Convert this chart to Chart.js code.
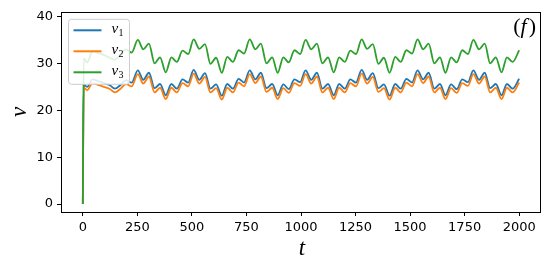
<!DOCTYPE html>
<html>
<head>
<meta charset="utf-8">
<script src="https://cdn.jsdelivr.net/npm/chart.js@4"></script>
<style>
  html, body { margin: 0; background: #fff; }
</style>
</head>
<body>
<canvas id="chart" width="550" height="270"></canvas>
<script>
// time samples (t), one point per local peak / dip
const times = [0, 4, 20, 45, 70, 96, 122, 147, 173, 198, 224,
  252, 277, 303, 329, 354, 380, 406, 431, 457, 483,
  508, 534, 560, 585, 611, 637, 662, 688, 714, 739,
  765, 791, 816, 842, 868, 893, 919, 944, 970, 996,
  1021, 1047, 1073, 1098, 1124, 1150, 1175, 1201, 1226, 1252,
  1278, 1303, 1329, 1355, 1380, 1406, 1432, 1457, 1483, 1509,
  1534, 1560, 1585, 1611, 1637, 1662, 1688, 1714, 1739, 1765,
  1790, 1816, 1842, 1867, 1893, 1919, 1944, 1970, 2000];

const v1 = [0, 25.4, 25.0, 26.6, 26.2, 25.8, 25.4, 24.6, 25.4, 26.4, 25.9,
  28.5, 26.5, 28.0, 24.7, 25.6, 23.2, 25.6, 24.6, 26.6, 25.9,
  28.6, 26.5, 27.9, 24.6, 25.5, 23.1, 25.6, 24.6, 26.7, 25.9,
  28.5, 26.6, 28.0, 24.7, 25.6, 23.2, 25.5, 24.5, 26.6, 26.0,
  28.5, 26.5, 28.0, 24.6, 25.6, 23.2, 25.6, 24.6, 26.6, 25.9,
  28.6, 26.5, 27.9, 24.7, 25.5, 23.1, 25.6, 24.6, 26.7, 25.9,
  28.5, 26.6, 28.0, 24.6, 25.6, 23.2, 25.5, 24.5, 26.6, 26.0,
  28.5, 26.5, 28.0, 24.7, 25.6, 23.2, 25.6, 24.6, 26.7];

const v2 = [0, 24.8, 24.3, 25.8, 25.4, 25.0, 24.6, 23.8, 24.6, 25.6, 25.1,
  27.7, 25.7, 27.2, 23.8, 24.8, 22.4, 24.8, 23.8, 25.8, 25.1,
  27.8, 25.7, 27.1, 23.8, 24.7, 22.3, 24.8, 23.8, 25.9, 25.1,
  27.7, 25.8, 27.2, 23.9, 24.8, 22.4, 24.7, 23.7, 25.8, 25.2,
  27.7, 25.7, 27.2, 23.8, 24.8, 22.4, 24.8, 23.8, 25.8, 25.1,
  27.8, 25.7, 27.1, 23.9, 24.7, 22.3, 24.8, 23.8, 25.9, 25.1,
  27.7, 25.8, 27.2, 23.8, 24.8, 22.4, 24.7, 23.7, 25.8, 25.2,
  27.7, 25.7, 27.2, 23.8, 24.8, 22.4, 24.8, 23.8, 25.9];

const v3 = [0, 31.0, 30.2, 32.6, 32.2, 31.8, 31.2, 30.8, 31.9, 33.0, 32.3,
  35.0, 33.0, 34.2, 30.0, 31.3, 28.1, 31.3, 30.3, 32.7, 32.0,
  35.1, 33.1, 34.1, 29.9, 31.2, 28.0, 31.4, 30.3, 32.8, 32.1,
  35.1, 33.0, 34.2, 30.0, 31.3, 28.0, 31.3, 30.2, 32.8, 32.0,
  35.0, 33.0, 34.2, 30.0, 31.3, 28.1, 31.3, 30.3, 32.7, 32.0,
  35.1, 33.1, 34.1, 29.9, 31.2, 28.0, 31.4, 30.3, 32.8, 32.1,
  35.1, 33.0, 34.2, 30.0, 31.3, 28.0, 31.3, 30.2, 32.8, 32.0,
  35.0, 33.0, 34.2, 30.0, 31.3, 28.1, 31.3, 30.3, 32.8];

const seriesNames = ['v1', 'v2', 'v3'];
const seriesColors = ['#1f77b4', '#ff7f0e', '#2ca02c'];
const xTicks = [0, 250, 500, 750, 1000, 1250, 1500, 1750, 2000];
const yTicks = [0, 10, 20, 30, 40];

const tickFont = { family: 'DejaVu Sans', size: 13 };
const mathFont = '"Liberation Serif", "DejaVu Serif", serif';

// frame, axis titles, legend and panel tag, drawn the matplotlib way
const extras = {
  id: 'extras',
  afterDraw(chart) {
    const ctx = chart.ctx;
    const a = chart.chartArea;
    ctx.save();

    ctx.strokeStyle = '#000';
    ctx.lineWidth = 1;
    ctx.strokeRect(Math.round(a.left) + 0.5, Math.round(a.top) + 0.5,
      Math.round(a.right - a.left) - 1, Math.round(a.bottom - a.top));

    ctx.fillStyle = '#000';
    ctx.font = 'italic 23px ' + mathFont;
    ctx.textAlign = 'center';
    ctx.textBaseline = 'middle';
    ctx.fillText('t', (a.left + a.right) / 2 + 1, 249);

    ctx.save();
    ctx.translate(20, (a.top + a.bottom) / 2);
    ctx.rotate(-Math.PI / 2);
    ctx.fillText('v', 0, 0);
    ctx.restore();

    // legend
    const lx = a.left + 7.5, ly = a.top + 7.5, lw = 61, lh = 65;
    ctx.beginPath();
    ctx.roundRect(lx, ly, lw, lh, 3);
    ctx.fillStyle = 'rgba(255,255,255,0.85)';
    ctx.fill();
    ctx.strokeStyle = '#cccccc';
    ctx.stroke();

    seriesNames.forEach((name, i) => {
      const y = ly + 11 + i * 21;
      ctx.strokeStyle = seriesColors[i];
      ctx.lineWidth = 2;
      ctx.beginPath();
      ctx.moveTo(lx + 5, y);
      ctx.lineTo(lx + 33, y);
      ctx.stroke();
      ctx.fillStyle = '#000';
      ctx.textAlign = 'left';
      ctx.textBaseline = 'alphabetic';
      ctx.font = 'italic 15px ' + mathFont;
      ctx.fillText(name[0], lx + 43, y + 3);
      ctx.font = '10px ' + mathFont;
      ctx.fillText(name.slice(1), lx + 50, y + 6);
    });

    // panel tag (f)
    ctx.fillStyle = '#000';
    ctx.textBaseline = 'alphabetic';
    ctx.textAlign = 'left';
    ctx.font = '22px ' + mathFont;
    const wp = ctx.measureText('(').width;
    ctx.font = 'italic 22px ' + mathFont;
    const wf = ctx.measureText('f').width;
    let x = a.right - 5 - (2 * wp + wf + 2);
    const yb = 33;
    ctx.font = '22px ' + mathFont;
    ctx.fillText('(', x, yb);
    x += wp;
    ctx.font = 'italic 22px ' + mathFont;
    ctx.fillText('f', x, yb);
    x += wf + 2;
    ctx.font = '22px ' + mathFont;
    ctx.fillText(')', x, yb);

    ctx.restore();
  }
};

const datasets = [v1, v2, v3].map((vals, i) => ({
  label: seriesNames[i],
  data: times.map((t, k) => ({ x: t, y: vals[k] })),
  borderColor: seriesColors[i],
  borderWidth: 1.8,
  pointRadius: 0,
  cubicInterpolationMode: 'monotone',
  order: 2 - i
}));

new Chart(document.getElementById('chart'), {
  type: 'line',
  data: { datasets },
  options: {
    responsive: false,
    animation: false,
    layout: { padding: { top: 9, right: 9, left: 0, bottom: 0 } },
    plugins: { legend: { display: false }, tooltip: { enabled: false } },
    scales: {
      x: {
        type: 'linear',
        min: -100,
        max: 2100,
        afterBuildTicks: s => { s.ticks = xTicks.map(v => ({ value: v })); },
        afterFit: s => { s.height = 58; },
        grid: { drawOnChartArea: false, drawTicks: true, tickLength: 4, color: '#000' },
        border: { display: false },
        ticks: { font: tickFont, color: '#000', padding: 4, maxRotation: 0, autoSkip: false,
          callback: v => String(v) }
      },
      y: {
        type: 'linear',
        min: -1.7,
        max: 41,
        afterBuildTicks: s => { s.ticks = yTicks.map(v => ({ value: v })); },
        afterFit: s => { s.width = 61; },
        grid: { drawOnChartArea: false, drawTicks: true, tickLength: 4, color: '#000' },
        border: { display: false },
        ticks: { font: tickFont, color: '#000', padding: 4, callback: v => String(v) }
      }
    }
  },
  plugins: [extras]
});
</script>
</body>
</html>
